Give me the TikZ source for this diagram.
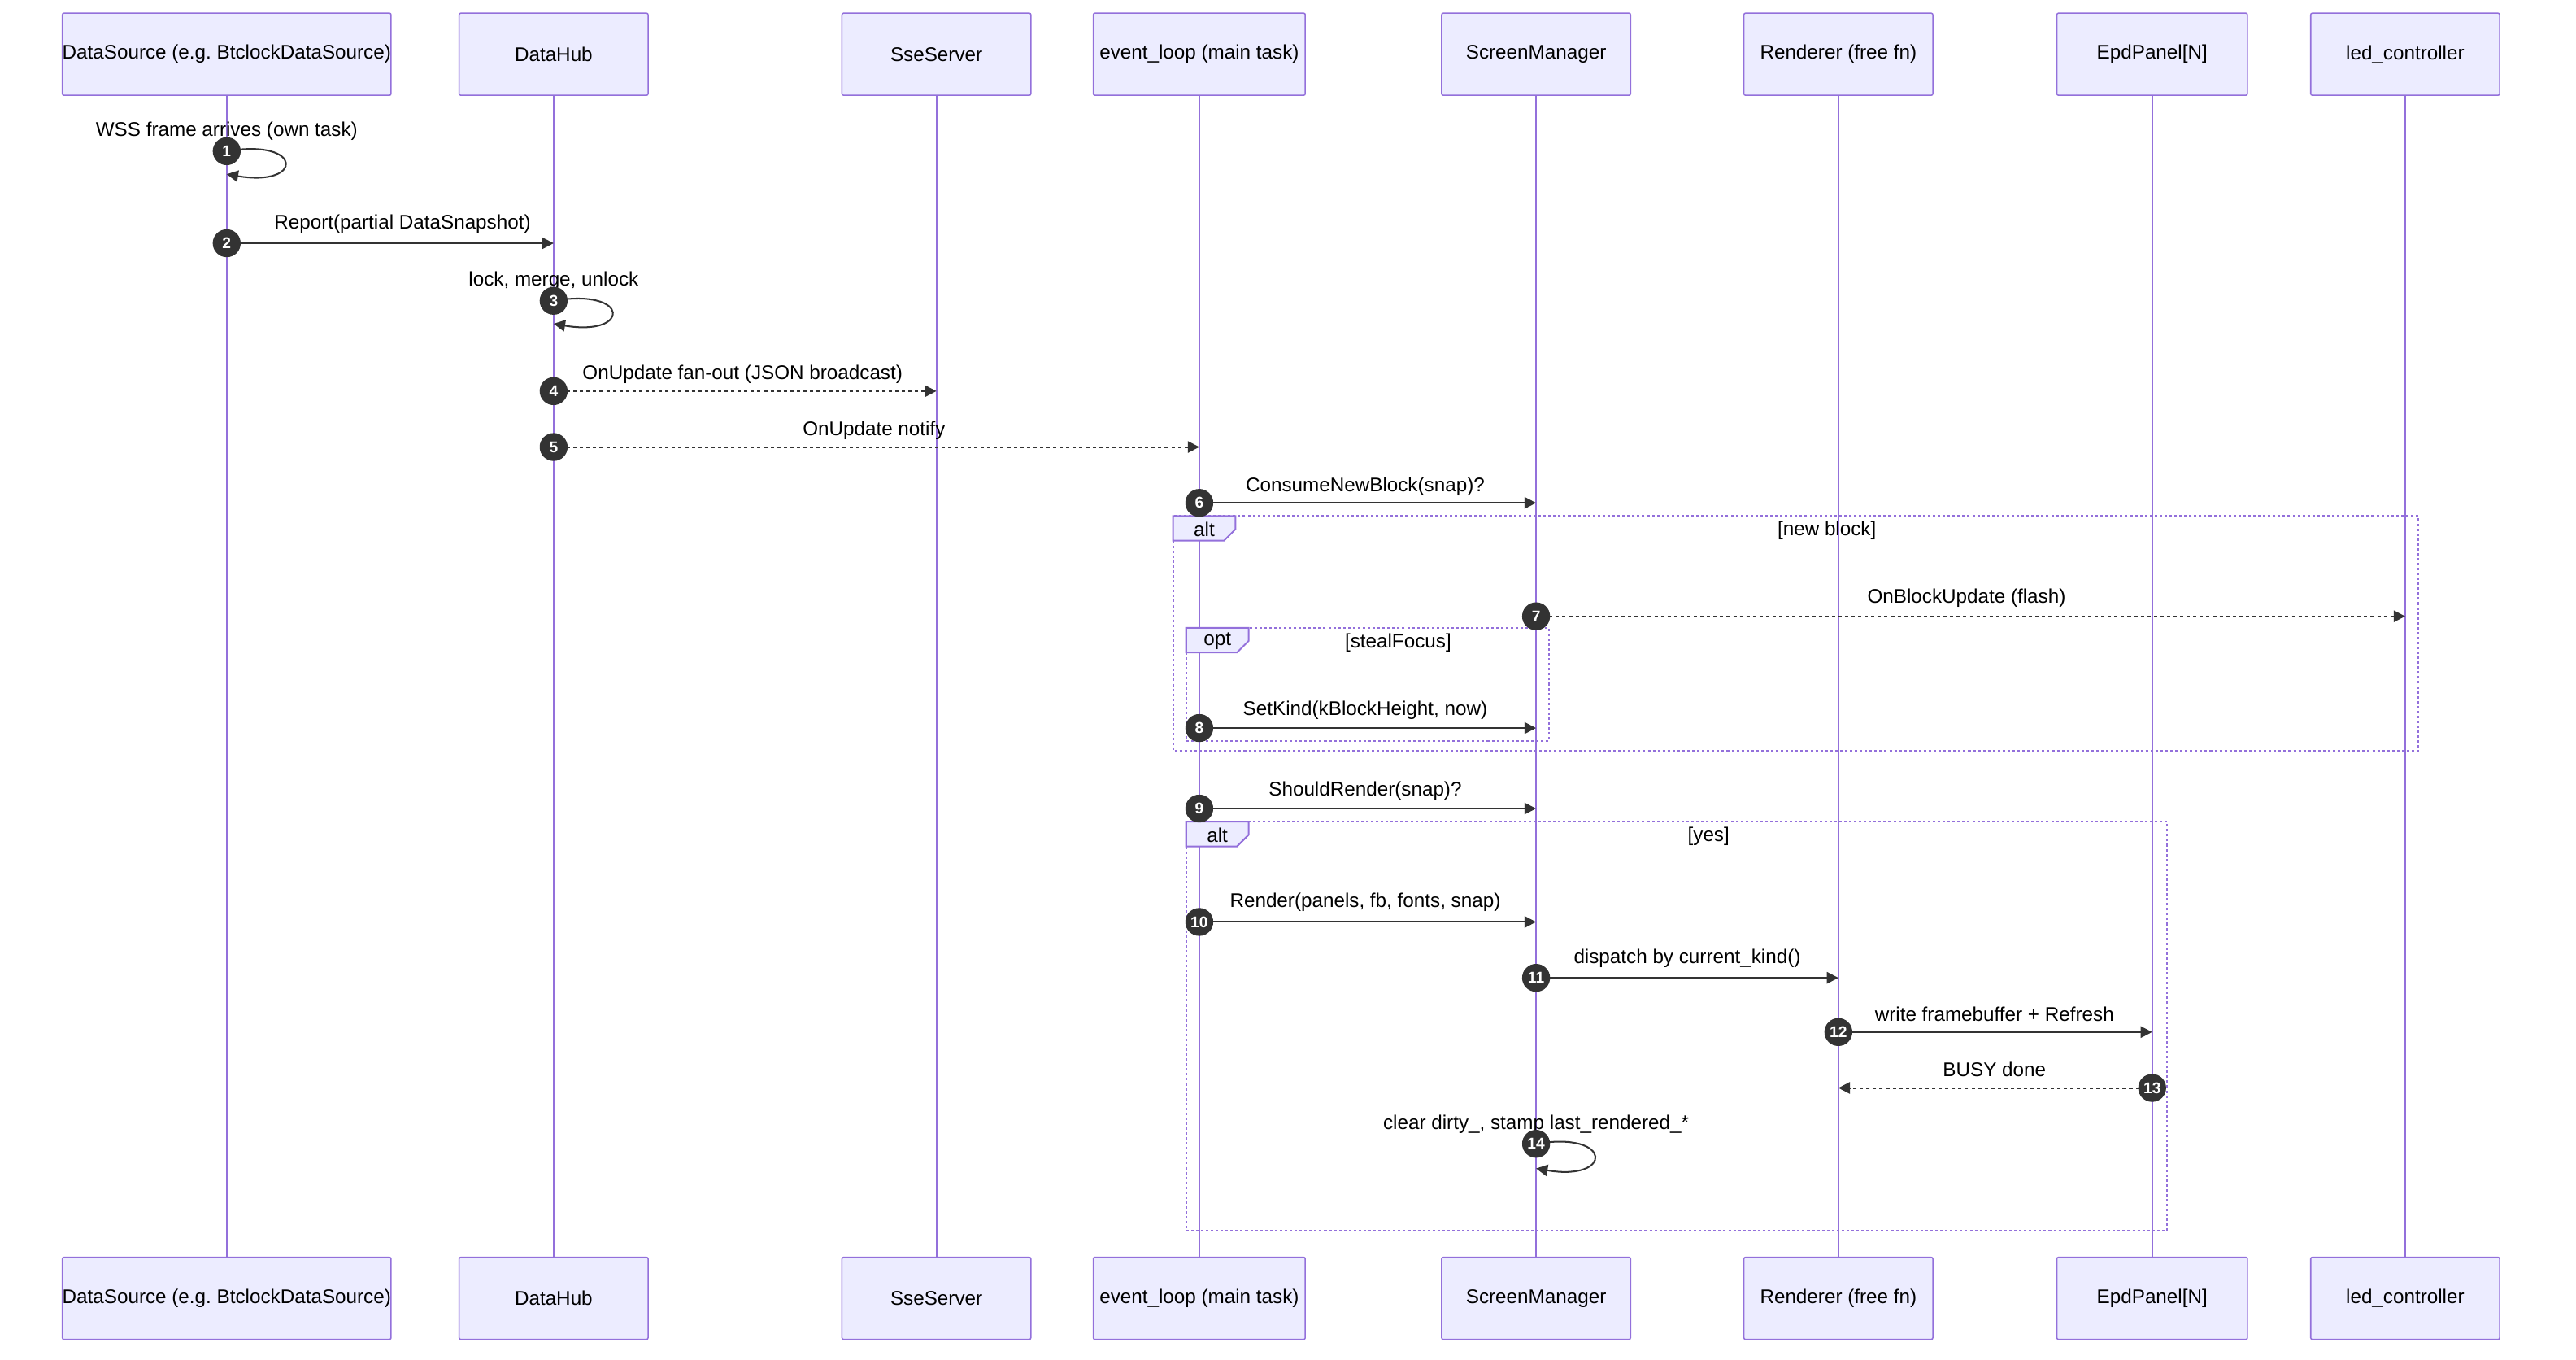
\documentclass[tikz,border=0pt]{standalone}
\usepackage{fontspec}
\setmainfont{Liberation Sans}
\frenchspacing
\usetikzlibrary{arrows.meta}
\definecolor{actfill}{RGB}{236,236,255}
\definecolor{actline}{RGB}{147,112,219}
\definecolor{msgline}{RGB}{51,51,51}
\tikzset{every picture/.style={line width=0.75pt}}
\tikzset{
  actor/.style={draw=actline,fill=actfill,rounded corners=1pt,minimum width=115pt,minimum height=50pt,inner xsep=0pt,font=\fontsize{12}{14}\selectfont},
  life/.style={draw=actline,line width=1pt},
  msg/.style={draw=msgline,line width=1pt,-{Triangle[length=7pt,width=7pt]}},
  reply/.style={msg,dash pattern=on 2pt off 2pt},
  lbl/.style={font=\fontsize{12}{14}\selectfont,text=black},
  num/.style={circle,fill=msgline,text=white,inner sep=0pt,minimum size=17pt,font=\fontsize{9.5}{10}\selectfont\bfseries},
  frame/.style={draw=actline,dash pattern=on 1.5pt off 1.5pt,line width=1pt},
  tab/.style={draw=actline,fill=actfill,line width=1pt},
}
\begin{document}
\begin{tikzpicture}[x=1pt,y=1pt,yscale=-1]
		\useasboundingbox (0,0) rectangle (1568,827.5);

		% participants, top and bottom
		\foreach \n/\x/\w/\t in {ds/138/200/{DataSource (e.g. BtclockDataSource)},hub/337/115/DataHub,sse/570/115/SseServer,loop/730/129/{event\_loop (main task)},sm/935/115/ScreenManager,rend/1119/115/{Renderer (free fn)},epd/1310/116/{EpdPanel[N]},led/1464/115/led\_controller}{
			\node [actor,minimum width=\w pt] (\n top) at (\x,33) {\t};
			\node [actor,minimum width=\w pt] (\n bot) at (\x,790) {\t};
			\draw [life] (\n top.south) -- (\n bot.north);
		}

		% frames
		\draw [frame] (714,314) rectangle (1472,457);
		\draw [tab] (714,314) -- (752,314) -- (752,322) -- (745,329) -- (714,329) -- cycle;
		\node [lbl] at (733,322) {alt};
		\node [lbl] at (1112,323) {[new block]};
		\draw [frame] (722,382) rectangle (943,451);
		\draw [tab] (722,382) -- (760,382) -- (760,390) -- (753,397) -- (722,397) -- cycle;
		\node [lbl] at (741,390) {opt};
		\node [lbl] at (851,391) {[stealFocus]};
		\draw [frame] (722,500) rectangle (1319,749);
		\draw [tab] (722,500) -- (760,500) -- (760,508) -- (753,515) -- (722,515) -- cycle;
		\node [lbl] at (741,508) {alt};
		\node [lbl] at (1040,509) {[yes]};

		% messages
		\coordinate (m1a) at (138,92);  \coordinate (m1b) at (138,106);
		\draw [msg] (m1a) .. controls (185,84) and (185,114) .. (m1b);
		\node [lbl] at (138,80) {WSS frame arrives (own task)};
		\node [num] (n1) at (m1a) {1};

		\coordinate (m2a) at (138,148); \coordinate (m2b) at (337,148);
		\draw [msg] (m2a) -- (m2b);
		\node [lbl] at (245,136) {Report(partial DataSnapshot)};
		\node [num] (n2) at (m2a) {2};

		\coordinate (m3a) at (337,183); \coordinate (m3b) at (337,197);
		\draw [msg] (m3a) .. controls (384,175) and (384,205) .. (m3b);
		\node [lbl] at (337,171) {lock, merge, unlock};
		\node [num] (n3) at (m3a) {3};

		\coordinate (m4a) at (337,238); \coordinate (m4b) at (570,238);
		\draw [reply] (m4a) -- (m4b);
		\node [lbl] at (452,228) {OnUpdate fan-out (JSON broadcast)};
		\node [num] (n4) at (m4a) {4};

		\coordinate (m5a) at (337,272); \coordinate (m5b) at (730,272);
		\draw [reply] (m5a) -- (m5b);
		\node [lbl] at (532,262) {OnUpdate notify};
		\node [num] (n5) at (m5a) {5};

		\coordinate (m6a) at (730,306); \coordinate (m6b) at (935,306);
		\draw [msg] (m6a) -- (m6b);
		\node [lbl] at (831,296) {ConsumeNewBlock(snap)?};
		\node [num] (n6) at (m6a) {6};

		\coordinate (m7a) at (935,375); \coordinate (m7b) at (1464,375);
		\draw [reply] (m7a) -- (m7b);
		\node [lbl] at (1197,364) {OnBlockUpdate (flash)};
		\node [num] (n7) at (m7a) {7};

		\coordinate (m8a) at (730,443); \coordinate (m8b) at (935,443);
		\draw [msg] (m8a) -- (m8b);
		\node [lbl] at (831,432) {SetKind(kBlockHeight, now)};
		\node [num] (n8) at (m8a) {8};

		\coordinate (m9a) at (730,492); \coordinate (m9b) at (935,492);
		\draw [msg] (m9a) -- (m9b);
		\node [lbl] at (831,481) {ShouldRender(snap)?};
		\node [num] (n9) at (m9a) {9};

		\coordinate (m10a) at (730,561); \coordinate (m10b) at (935,561);
		\draw [msg] (m10a) -- (m10b);
		\node [lbl] at (831,549) {Render(panels, fb, fonts, snap)};
		\node [num] (n10) at (m10a) {10};

		\coordinate (m11a) at (935,595); \coordinate (m11b) at (1119,595);
		\draw [msg] (m11a) -- (m11b);
		\node [lbl] at (1027,583) {dispatch by current\_kind()};
		\node [num] (n11) at (m11a) {11};

		\coordinate (m12a) at (1119,628); \coordinate (m12b) at (1310,628);
		\draw [msg] (m12a) -- (m12b);
		\node [lbl] at (1214,617) {write framebuffer + Refresh};
		\node [num] (n12) at (m12a) {12};

		\coordinate (m13a) at (1310,662); \coordinate (m13b) at (1119,662);
		\draw [reply] (m13a) -- (m13b);
		\node [lbl] at (1214,651) {BUSY done};
		\node [num] (n13) at (m13a) {13};

		\coordinate (m14a) at (935,696); \coordinate (m14b) at (935,711);
		\draw [msg] (m14a) .. controls (982,688) and (982,719) .. (m14b);
		\node [lbl] at (935,684) {clear dirty\_, stamp last\_rendered\_*};
		\node [num] (n14) at (m14a) {14};

		\end{tikzpicture}
\end{document}
